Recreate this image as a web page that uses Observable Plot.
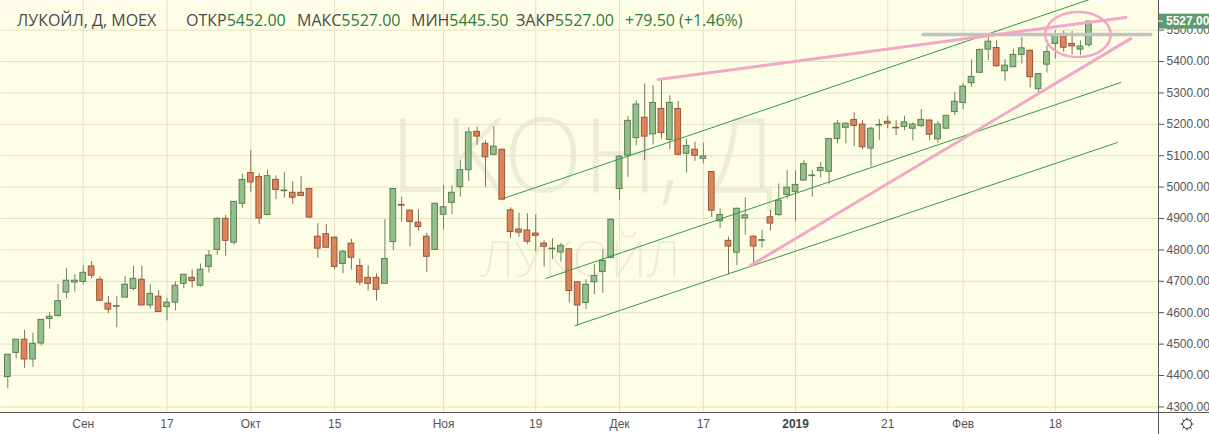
<!DOCTYPE html>
<html><head><meta charset="utf-8">
<script src="https://cdn.jsdelivr.net/npm/d3@7"></script>
<script src="https://cdn.jsdelivr.net/npm/@observablehq/plot@0.6"></script>
<style>
body{margin:0;background:#fff;}
#wrap{position:relative;width:1209px;height:434px;overflow:hidden;}
#hdr span.g{position:absolute;top:10px;font:16px "Open Sans",sans-serif;white-space:pre;line-height:20px;}
.lab{color:#4a4a4a;} .val{color:#2f7a3d;}
</style></head><body><div id="wrap"><div id="chart"></div><div id="hdr"></div></div>
<script>
// ---- data (index = trading day, 21 Aug 2018 .. 22 Feb 2019) ----
const open  = [4395,4472,4514,4451,4502,4580,4589,4664,4696,4698,4747,4705,4629,4619,4648,4676,4705,4623,4651,4618,4632,4692,4711,4686,4746,4800,4899,4823,4947,5045,5032,4911,5023,4987,4982,4982,4994,4842,4850,4839,4755,4820,4749,4711,4711,4692,4825,4943,4925,4887,4842,4800,4912,4950,5000,5054,5176,5138,5103,5119,4926,4865,4862,4852,4820,4802,4792,4802,4697,4631,4697,4730,4774,4994,5100,5156,5221,5168,5249,5150,5249,5106,5119,5090,5048,4891,4829,4791,4900,4842,4829,4904,4911,4975,4985,5021,5035,5051,5049,5153,5189,5214,5199,5123,5196,5208,5189,5192,5186,5195,5212,5152,5186,5239,5268,5331,5364,5438,5443,5369,5382,5421,5434,5312,5390,5456,5480,5456,5438,5452];
const high  = [4468,4515,4544,4535,4579,4601,4690,4741,4721,4750,4763,4713,4652,4652,4715,4748,4748,4690,4670,4645,4698,4721,4736,4755,4798,4902,4910,4953,5042,5116,5042,5054,5036,5047,5017,5033,4996,4884,4881,4842,4798,4834,4771,4749,4724,4897,4996,4968,4927,4928,4853,4949,5005,5005,5084,5189,5192,5148,5192,5120,4934,4917,4915,4912,4829,4836,4821,4804,4699,4705,4753,4800,4899,5100,5225,5275,5328,5323,5340,5291,5273,5153,5143,5140,5050,4931,4840,4933,4966,4845,4863,4926,5010,5052,5052,5084,5054,5078,5154,5212,5204,5237,5212,5191,5215,5225,5212,5226,5205,5247,5214,5209,5229,5302,5330,5405,5439,5482,5466,5406,5440,5477,5437,5362,5450,5498,5496,5496,5466,5527];
const low   = [4358,4453,4423,4426,4494,4547,4586,4645,4666,4689,4708,4638,4597,4552,4648,4669,4623,4612,4602,4574,4606,4676,4679,4682,4726,4783,4780,4815,4933,4984,4881,4909,4960,4965,4945,4970,4901,4774,4806,4736,4724,4736,4686,4669,4637,4692,4798,4889,4809,4860,4729,4799,4863,4913,4968,5018,5132,5000,5100,4958,4836,4840,4817,4794,4746,4770,4761,4631,4557,4610,4658,4662,4772,4957,5031,5132,5084,5134,5153,5120,5100,5045,5082,5074,4903,4868,4721,4750,4847,4747,4806,4860,4905,4963,4889,5019,4968,5029,5007,5138,5138,5129,5119,5064,5149,5186,5164,5180,5147,5189,5149,5140,5184,5228,5247,5318,5362,5403,5382,5337,5380,5392,5316,5300,5364,5408,5430,5421,5419,5445.5];
const close = [4466,4514,4451,4501,4577,4587,4637,4702,4702,4727,4718,4638,4610,4621,4689,4708,4623,4660,4602,4632,4686,4721,4701,4737,4782,4899,4829,4953,5023,5015,4900,5035,4991,4989,4966,4972,4903,4804,4807,4746,4794,4775,4696,4692,4673,4771,4994,4941,4889,4873,4778,4947,4936,4982,5054,5174,5161,5095,5129,4960,4857,4855,4826,4845,4810,4804,4813,4669,4623,4689,4717,4765,4896,5097,5211,5263,5161,5268,5172,5268,5103,5131,5100,5098,4925,4911,4811,4931,4910,4811,4831,4884,4957,4998,5007,5073,5037,5061,5153,5202,5202,5195,5127,5186,5198,5202,5187,5206,5199,5214,5167,5199,5227,5272,5320,5351,5437,5463,5385,5387,5421,5442,5350,5360,5430,5482,5444,5448,5447.5,5527];
const tickIndex  = [9,19,29,39,52,63,73,83,94,105,114,125];
const tickLabels = ["Сен","17","Окт","15","Ноя","19","Дек","17","2019","21","Фев","18"];
const priceTicks = [4300,4400,4500,4600,4700,4800,4900,5000,5100,5200,5300,5400,5500];
const ticker = "ЛУКОЙЛ, Д, MOEX";
const headerLabels = ["ОТКР","МАКС","МИН","ЗАКР"];
const headerValues = [5452.00,5527.00,5445.50,5527.00];
const change = 79.50, changePct = 1.46;
const watermark = ["LKOH, Д","ЛУКОЙЛ"];
// drawn annotation lines: [startIndex, startPrice, endIndex, endPrice]
const greenLines = [[59.15,4964,134,5642],[64.2,4709,132.8,5333],[67.7,4559,132.4,5142]];
const pinkLines  = [[77.6,5343,133.4,5540],[88.6,4750,134,5473]];
const greyLine   = [109.2,5486,136.4,5486];
const ellipse    = {ci:127.7, cp:5486, ri:3.9, rp:72};

const candles = open.map((o,i)=>({i,o,h:high[i],l:low[i],c:close[i]}));
const up = candles.filter(d=>d.c>=d.o), dn = candles.filter(d=>d.c<d.o);
const seg = a => [{x:a[0],y:a[1]},{x:a[2],y:a[3]}];
const ell = d3.range(0,73).map(k=>({x:ellipse.ci+ellipse.ri*Math.cos(k/72*2*Math.PI), y:ellipse.cp+ellipse.rp*Math.sin(k/72*2*Math.PI)}));
const lab = d => tickLabels[tickIndex.indexOf(d)];
const bw = 0.34;
const font = "'Liberation Sans', Arial, sans-serif";

const plot = Plot.plot({
  width:1209, height:434, marginLeft:0, marginRight:51, marginTop:0, marginBottom:22,
  x:{domain:[-0.871,137.31]}, y:{domain:[4282.2,5594.3]},
  style:{background:"#fff", fontFamily:font},
  marks:[
    Plot.frame({fill:"#fefee6", stroke:null}),
    Plot.text([watermark[0]], {frameAnchor:"top-left", dx:582, dy:158, text:d=>d, textAnchor:"middle", lineAnchor:"middle", fontSize:104, fontWeight:300, fontFamily:"'Open Sans', sans-serif", fill:"#000", fillOpacity:0.065}),
    Plot.text([watermark[1]], {frameAnchor:"top-left", dx:580, dy:260, text:d=>d, textAnchor:"middle", lineAnchor:"middle", fontSize:50, fontWeight:300, fontFamily:"'Open Sans', sans-serif", fill:"#000", fillOpacity:0.065}),
    Plot.gridY(priceTicks, {stroke:"#e4e2c2", strokeOpacity:1}),
    Plot.gridX(tickIndex, {stroke:"#e4e2c2", strokeOpacity:1}),
    Plot.ruleX(up, {x:"i", y1:"l", y2:"h", stroke:"#6a8663"}),
    Plot.ruleX(dn, {x:"i", y1:"l", y2:"h", stroke:"#7f6f57"}),
    Plot.rect(up, {x1:d=>d.i-bw, x2:d=>d.i+bw, y1:"o", y2:"c", fill:"#93bf8c", stroke:"#5a8052"}),
    Plot.rect(dn, {x1:d=>d.i-bw, x2:d=>d.i+bw, y1:"c", y2:"o", fill:"#e0825a", stroke:"#97573a"}),
    ...greenLines.map(a=>Plot.line(seg(a), {x:"x", y:"y", stroke:"#2f9a48", strokeWidth:1, clip:true})),
    Plot.line(seg(greyLine), {x:"x", y:"y", stroke:"#c2c2c2", strokeWidth:3.5, clip:true}),
    ...pinkLines.map(a=>Plot.line(seg(a), {x:"x", y:"y", stroke:"#f3a7c6", strokeWidth:3, clip:true})),
    Plot.line(ell, {x:"x", y:"y", stroke:"#f3a7c6", strokeWidth:2.5, curve:"linear"}),
    Plot.axisY(priceTicks, {anchor:"right", tickSize:5, tickPadding:3, tickFormat:d=>d.toFixed(2), fontSize:12, fill:"#555", stroke:"#555"}),
    Plot.axisX(tickIndex.filter(d=>lab(d)!=="2019"), {anchor:"bottom", tickSize:0, tickPadding:7, tickFormat:lab, fontSize:12, fill:"#555"}),
    Plot.axisX(tickIndex.filter(d=>lab(d)==="2019"), {anchor:"bottom", tickSize:0, tickPadding:7, tickFormat:lab, fontSize:12, fontWeight:"bold", fill:"#444"})
  ]
});
document.getElementById("chart").appendChild(plot);

// frame lines, last-price label, settings icon
const svg = d3.select(plot);
const xs = plot.scale("x"), ys = plot.scale("y");
const right = xs.range[1], bottom = ys.range[0];
svg.append("line").attr("x1",0).attr("x2",1209).attr("y1",bottom+0.5).attr("y2",bottom+0.5).attr("stroke","#555");
svg.append("line").attr("x1",right+0.5).attr("x2",right+0.5).attr("y1",0).attr("y2",434).attr("stroke","#555");
const ly = ys.apply(close[close.length-1]);
svg.append("rect").attr("x",right+1).attr("y",ly-7.5).attr("width",1209-right-1).attr("height",15).attr("fill","#5e9b70");
svg.append("line").attr("x1",right).attr("x2",right+5).attr("y1",ly).attr("y2",ly).attr("stroke","#fff");
svg.append("text").attr("x",right+8).attr("y",ly).attr("dy","0.36em").attr("text-anchor","start").attr("fill","#fff").attr("font-size",12).attr("font-weight","bold").attr("font-family",font).text(close[close.length-1].toFixed(2));
const g = svg.append("g").attr("transform",`translate(1187,${bottom+12})`).attr("stroke","#333").attr("fill","none");
g.append("circle").attr("r",4.5);
d3.range(8).forEach(k=>{const a=k*Math.PI/4; g.append("line").attr("x1",4.5*Math.cos(a)).attr("y1",4.5*Math.sin(a)).attr("x2",6.5*Math.cos(a)).attr("y2",6.5*Math.sin(a));});

// header
const hdr = document.getElementById("hdr");
const lefts = [17,186,297,411,516,625];
const parts = [`<span class="lab">${ticker}</span>`]
  .concat(headerLabels.map((l,k)=>`<span class="lab">${l}</span><span class="val">${headerValues[k].toFixed(2)}</span>`))
  .concat([`<span class="val">+${change.toFixed(2)} (+${changePct.toFixed(2)}%)</span>`]);
hdr.innerHTML = parts.map((p,k)=>`<span class="g" style="left:${lefts[k]}px">${p}</span>`).join("");
</script></body></html>
